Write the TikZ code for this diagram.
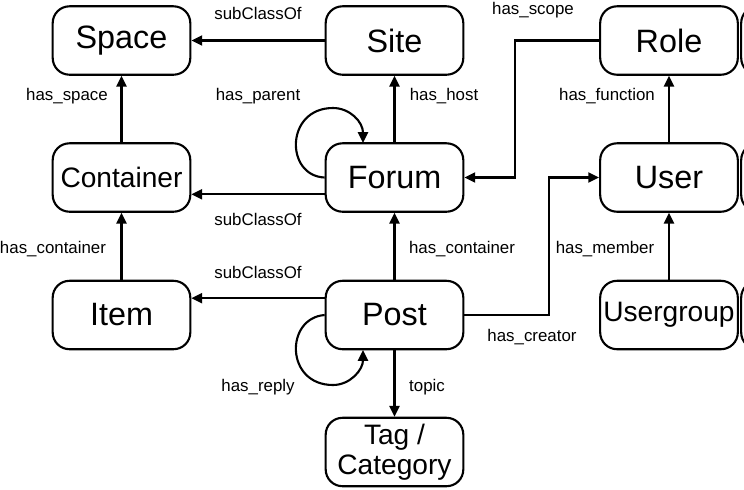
\documentclass[tikz,border=0pt]{standalone}
\usepackage{fontspec}
\setmainfont{Liberation Sans}
\usetikzlibrary{arrows.meta}

\tikzset{
  box/.style={draw, line width=1.5pt, rounded corners=0.42cm,
    minimum width=3.44cm, minimum height=1.71cm, inner sep=0pt,
    font=\fontsize{23}{26}\selectfont},
  smallbox/.style={box, font=\fontsize{20}{21}\selectfont},
  lbl/.style={font=\fontsize{12}{14}\selectfont, inner sep=1pt},
  rel/.style={line width=1.5pt, -{Triangle[length=0.27cm,width=0.25cm]}}
}

\begin{document}
\begin{tikzpicture}[x=0.025cm,y=-0.025cm]
 \useasboundingbox (0,0) rectangle (744,489);
 \clip (0,0) rectangle (744,489);

 %classes
 \node[box] (space) at (121.5,40.5) {Space};
 \node[box] (site) at (394.5,40.5) {Site};
 \node[box] (role) at (669,40.5) {Role};
 \node[smallbox] (container) at (121.5,177.5) {Container};
 \node[box] (forum) at (394.5,177.5) {Forum};
 \node[box] (user) at (669,177.5) {User};
 \node[box] (item) at (121.5,315) {Item};
 \node[box] (post) at (394.5,315) {Post};
 \node[smallbox] (usergroup) at (669,315) {Usergroup};
 \node[smallbox, align=center] (tag) at (394.5,452) {Tag /\\Category};

 %boxes cut off at the right border
 \node[box] (nextrole) at (810,40.5) {};
 \node[box] (nextuser) at (810,177.5) {};
 \node[box] (nextgroup) at (810,315) {};

 %bends of the routed connectors
 \coordinate (scopebend) at (515,110);
 \coordinate (creatorbend) at (549,250);
 \coordinate (parentend) at (363,143);
 \coordinate (replyend) at (363,350);

 %relations
 \draw[rel] (site.west) -- (space.east);
 \draw[rel] (container.north) -- (space.south);
 \draw[rel] (forum.north) -- (site.south);
 \draw[rel] (user.north) -- (role.south);
 \draw[rel] (role.west) -| (scopebend) |- (forum.east);
 \draw[rel] ([yshift=-0.42cm]forum.west) -- ([yshift=-0.42cm]container.east);
 \draw[rel] (item.north) -- (container.south);
 \draw[rel] (post.north) -- (forum.south);
 \draw[rel] (usergroup.north) -- (user.south);
 \draw[rel] (post.east) -| (creatorbend) |- (user.west);
 \draw[rel] ([yshift=0.42cm]post.west) -- ([yshift=0.42cm]item.east);
 \draw[rel] (post.south) -- (tag.north);

 %self loops
 \draw[rel] (forum.west) .. controls (285,176) and (285,108) .. (333,108)
   .. controls (350,108) and (363,122) .. (parentend);
 \draw[rel] (post.west) .. controls (285,318) and (285,385) .. (333,385)
   .. controls (350,385) and (363,370) .. (replyend);

 %labels
 \node[lbl] (subsite) at (258,13) {subClassOf};
 \node[lbl] (scope) at (533,10) {has\_scope};
 \node[lbl] (spacelbl) at (67,96) {has\_space};
 \node[lbl] (parent) at (258,96) {has\_parent};
 \node[lbl] (host) at (444,96) {has\_host};
 \node[lbl] (function) at (607,96) {has\_function};
 \node[lbl] (subforum) at (258,219) {subClassOf};
 \node[lbl] (itemcont) at (53,249) {has\_container};
 \node[lbl] (postcont) at (462,249) {has\_container};
 \node[lbl] (member) at (605,249) {has\_member};
 \node[lbl] (subpost) at (258,272) {subClassOf};
 \node[lbl] (creator) at (532,337) {has\_creator};
 \node[lbl] (reply) at (258,387) {has\_reply};
 \node[lbl] (topic) at (427,387) {topic};
\end{tikzpicture}
\end{document}
